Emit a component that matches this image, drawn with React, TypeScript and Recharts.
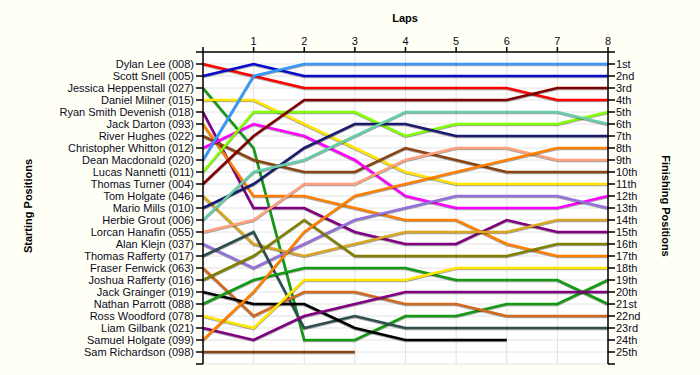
import React from 'react';
import { LineChart, Line, XAxis, YAxis, CartesianGrid } from 'recharts';

const laps = [0, 1, 2, 3, 4, 5, 6, 7, 8];
const lapTickLabels = ['', '1', '2', '3', '4', '5', '6', '7', '8'];

const drivers = [
  'Dylan Lee (008)',
  'Scott Snell (005)',
  'Jessica Heppenstall (027)',
  'Daniel Milner (015)',
  'Ryan Smith Devenish (018)',
  'Jack Darton (093)',
  'River Hughes (022)',
  'Christopher Whitton (012)',
  'Dean Macdonald (020)',
  'Lucas Nannetti (011)',
  'Thomas Turner (004)',
  'Tom Holgate (046)',
  'Mario Mills (010)',
  'Herbie Grout (006)',
  'Lorcan Hanafin (055)',
  'Alan Klejn (037)',
  'Thomas Rafferty (017)',
  'Fraser Fenwick (063)',
  'Joshua Rafferty (016)',
  'Jack Grainger (019)',
  'Nathan Parrott (088)',
  'Ross Woodford (078)',
  'Liam Gilbank (021)',
  'Samuel Holgate (099)',
  'Sam Richardson (098)',
];

const finishLabels = [
  '1st', '2nd', '3rd', '4th', '5th', '6th', '7th', '8th', '9th', '10th',
  '11th', '12th', '13th', '14th', '15th', '16th', '17th', '18th', '19th', '20th',
  '21st', '22nd', '23rd', '24th', '25th',
];

const lineColors = [
  '#FF0000', '#0A0ACC', '#129A12', '#FFE400', '#800080',
  '#FF8000', '#8B4513', '#FF00FF', '#3399FF', '#80FF00',
  '#800000', '#DAA520', '#1C1C6E', '#66CDAA', '#FFA07A',
  '#9370DB', '#2F4F4F', '#D2691E', '#808000', '#000000',
  '#129A12', '#FFE400', '#800080', '#FF8000', '#8B4513',
];

// position of each driver at laps 0..8 (null = retired)
const positions: (number | null)[][] = [
  [1, 2, 3, 3, 3, 3, 3, 4, 4],
  [2, 1, 2, 2, 2, 2, 2, 2, 2],
  [3, 8, 24, 24, 22, 22, 21, 21, 19],
  [4, 4, 6, 8, 10, 11, 11, 11, 11],
  [5, 13, 13, 15, 16, 16, 14, 15, 15],
  [6, 12, 12, 13, 14, 14, 16, 17, 17],
  [7, 9, 10, 10, 8, 9, 10, 10, 10],
  [8, 6, 7, 9, 12, 13, 13, 13, 12],
  [9, 2, 1, 1, 1, 1, 1, 1, 1],
  [10, 5, 5, 5, 7, 6, 6, 6, 5],
  [11, 7, 4, 4, 4, 4, 4, 3, 3],
  [12, 16, 17, 16, 15, 15, 15, 14, 14],
  [13, 11, 8, 6, 6, 7, 7, 7, 7],
  [14, 10, 9, 7, 5, 5, 5, 5, 6],
  [15, 14, 11, 11, 9, 8, 8, 9, 9],
  [16, 18, 16, 14, 13, 12, 12, 12, 13],
  [17, 15, 23, 22, 23, 23, 23, 23, 23],
  [18, 22, 20, 20, 21, 21, 22, 22, 22],
  [19, 17, 14, 17, 17, 17, 17, 16, 16],
  [20, 21, 21, 23, 24, 24, 24, null, null],
  [21, 19, 18, 18, 18, 19, 19, 19, 21],
  [22, 23, 19, 19, 19, 18, 18, 18, 18],
  [23, 24, 22, 21, 20, 20, 20, 20, 20],
  [24, 20, 15, 12, 11, 10, 9, 8, 8],
  [25, 25, 25, 25, null, null, null, null, null],
];

const yTicks = Array.from({ length: 27 }, (_, i) => i);

const data = laps.map((lap, li) => {
  const row: Record<string, number | null> = { lap };
  positions.forEach((p, di) => {
    row[`d${di}`] = p[li] ?? null;
  });
  return row;
});

const FONT = '"Liberation Sans", Arial, sans-serif';
const TEXT = '#0a0a1e';

export default function App() {
  return (
    <div
      style={{
        position: 'absolute',
        left: 0,
        top: 0,
        width: 700,
        height: 375,
        background: '#FFFFF5',
        fontFamily: FONT,
        overflow: 'hidden',
      }}
    >
      <style>{`.recharts-line-curve { filter: drop-shadow(0.6px 1px 0.4px rgba(0,0,0,0.35)); }`}</style>
      <LineChart
        width={700}
        height={375}
        data={data}
        margin={{ top: 22, right: 0, bottom: 11, left: 0 }}
        style={{ fontFamily: FONT }}
      >
        <CartesianGrid yAxisId="left" stroke="#e2e2e2" strokeWidth={1} fill="#ffffff" />
        <XAxis
          dataKey="lap"
          type="number"
          domain={[0, 8]}
          ticks={laps}
          interval={0}
          orientation="top"
          height={30}
          tickSize={5}
          tickMargin={2}
          tickFormatter={(v: number) => lapTickLabels[v] ?? ''}
          axisLine={{ stroke: '#000', strokeWidth: 1.5 }}
          tickLine={{ stroke: '#000', strokeWidth: 1.5 }}
          tick={{ fontSize: 11, fill: TEXT, fontFamily: FONT }}
        />
        <YAxis
          yAxisId="left"
          type="number"
          domain={[0, 26]}
          allowDataOverflow
          reversed
          ticks={yTicks}
          interval={0}
          width={203}
          tickSize={7}
          tickMargin={2}
          tickFormatter={(v: number) => (v >= 1 && v <= 25 ? drivers[v - 1] : '')}
          axisLine={{ stroke: '#000', strokeWidth: 1.5 }}
          tickLine={{ stroke: '#000', strokeWidth: 1.5 }}
          tick={{ fontSize: 11, fill: TEXT, fontFamily: FONT }}
        />
        <YAxis
          yAxisId="right"
          orientation="right"
          type="number"
          domain={[0, 26]}
          allowDataOverflow
          reversed
          ticks={yTicks}
          interval={0}
          width={92}
          tickSize={7}
          tickMargin={1}
          tickFormatter={(v: number) => (v >= 1 && v <= 25 ? finishLabels[v - 1] : '')}
          axisLine={{ stroke: '#000', strokeWidth: 1.5 }}
          tickLine={{ stroke: '#000', strokeWidth: 1.5 }}
          tick={{ fontSize: 11, fill: TEXT, fontFamily: FONT }}
        />
        {drivers.map((name, i) => (
          <Line
            key={name}
            yAxisId={i === drivers.length - 1 ? 'right' : 'left'}
            type="linear"
            dataKey={`d${i}`}
            name={name}
            stroke={lineColors[i]}
            strokeWidth={2.6}
            dot={false}
            activeDot={false}
            isAnimationActive={false}
          />
        ))}
      </LineChart>
      <div
        style={{
          position: 'absolute',
          left: 405,
          top: 18,
          transform: 'translate(-50%, -50%)',
          fontWeight: 'bold',
          fontSize: 11,
          color: '#000',
          whiteSpace: 'nowrap',
        }}
      >
        Laps
      </div>
      <div
        style={{
          position: 'absolute',
          left: 28,
          top: 206,
          transform: 'translate(-50%, -50%) rotate(-90deg)',
          fontWeight: 'bold',
          fontSize: 11,
          color: '#000',
          whiteSpace: 'nowrap',
        }}
      >
        Starting Positions
      </div>
      <div
        style={{
          position: 'absolute',
          left: 666,
          top: 206,
          transform: 'translate(-50%, -50%) rotate(90deg)',
          fontWeight: 'bold',
          fontSize: 11,
          color: '#000',
          whiteSpace: 'nowrap',
        }}
      >
        Finishing Positions
      </div>
    </div>
  );
}
